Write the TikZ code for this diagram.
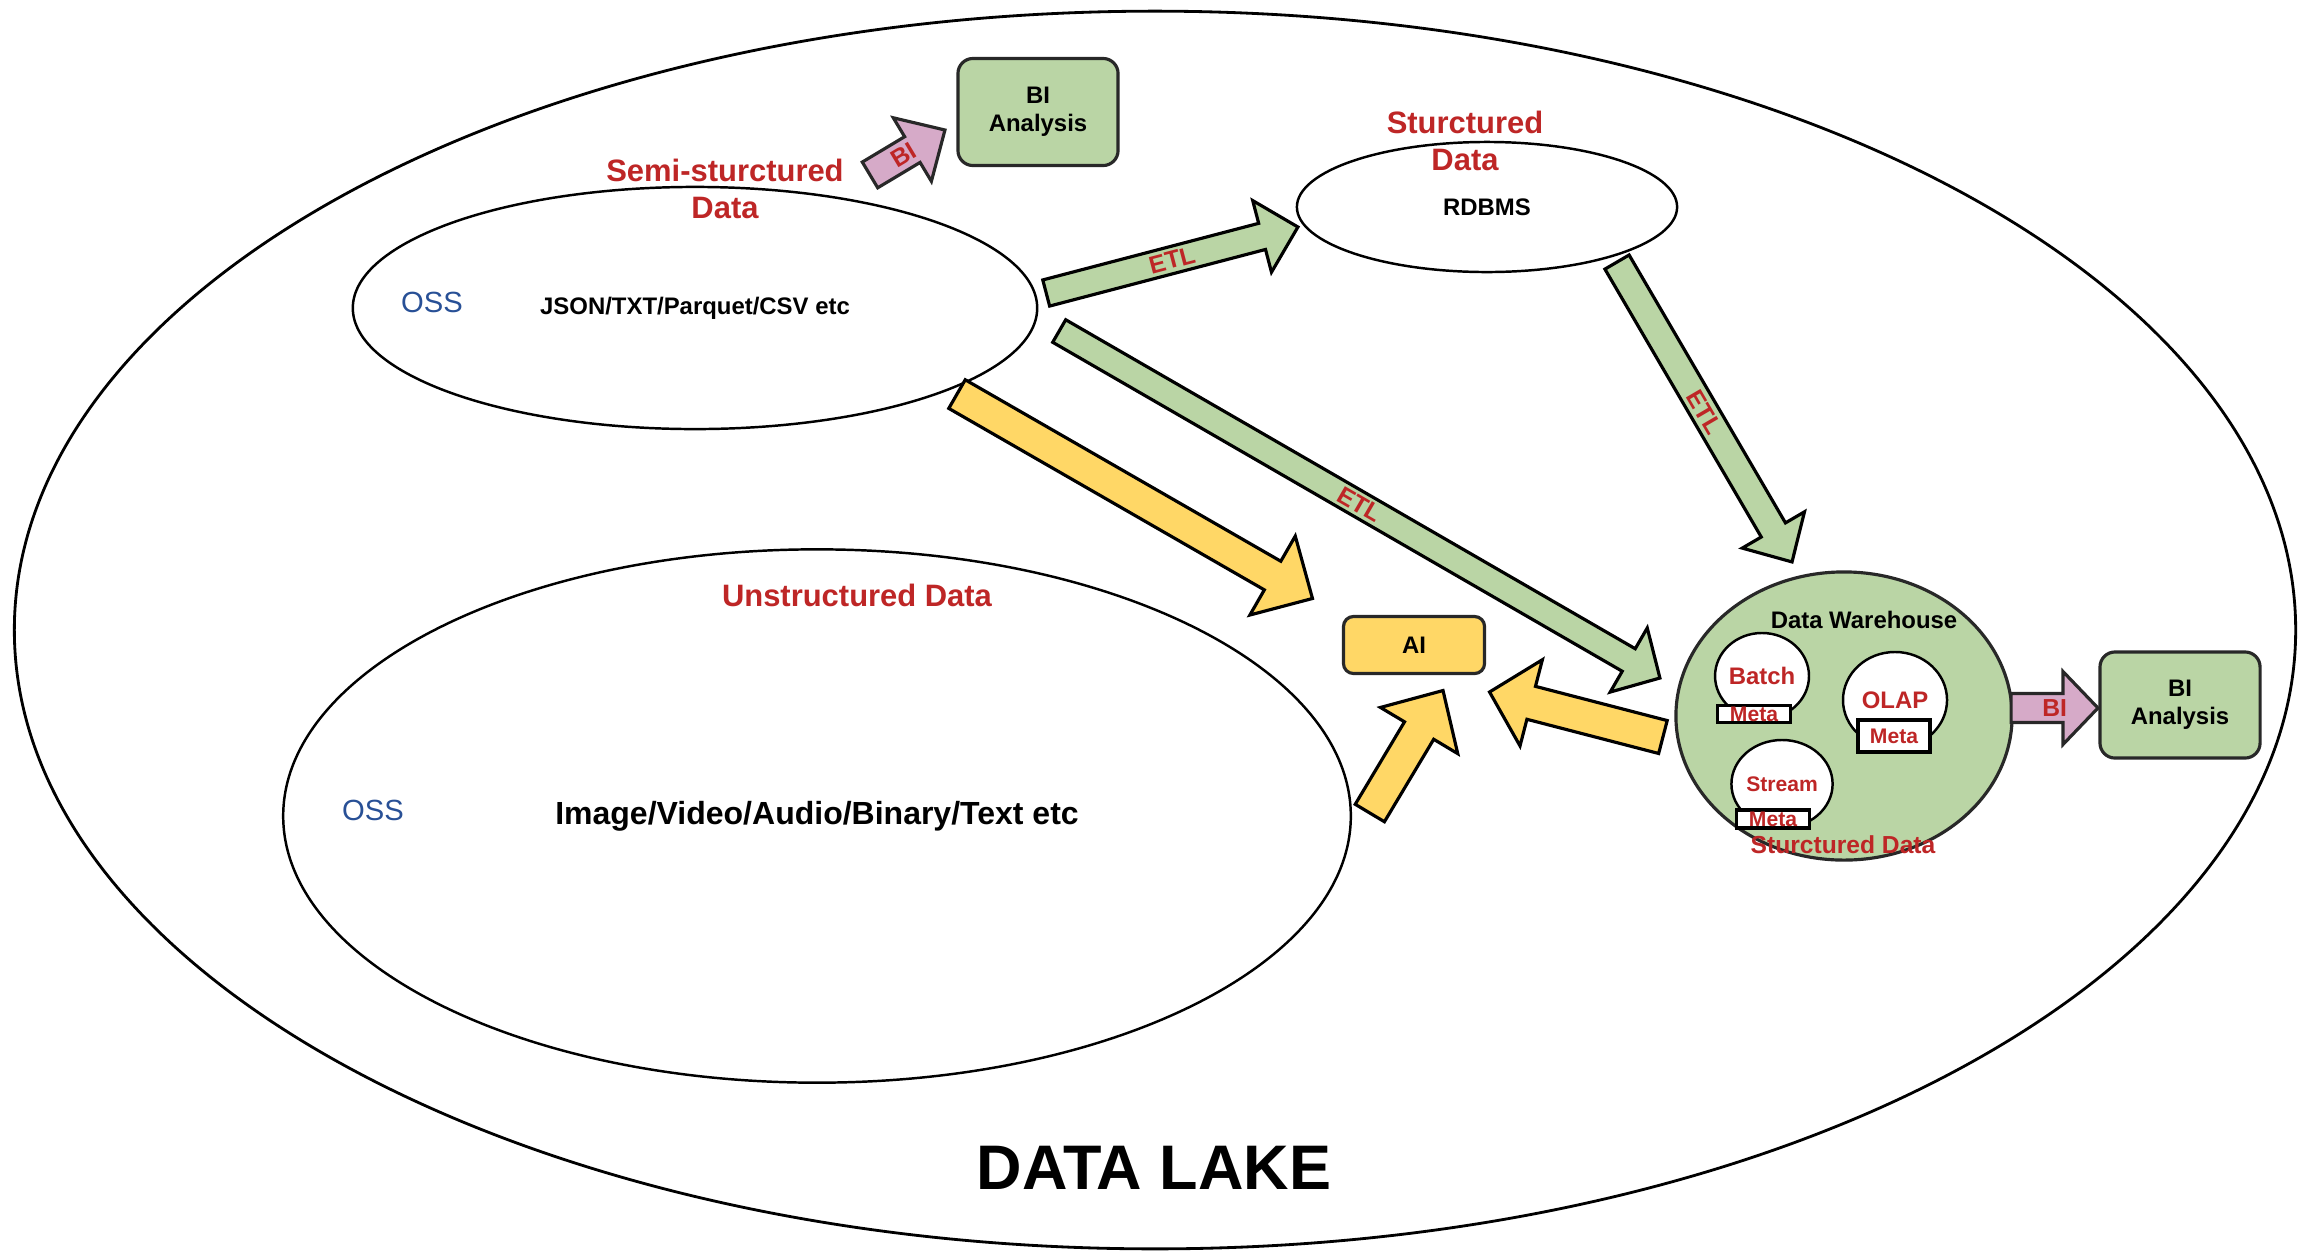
\documentclass[tikz,border=0pt]{standalone}
\usepackage{fontspec}
\setmainfont{Liberation Sans}
\usetikzlibrary{calc,shapes.geometric}

\definecolor{lblred}{RGB}{190,38,38}
\definecolor{ossblue}{RGB}{40,80,150}
\definecolor{grnfill}{RGB}{186,213,165}
\definecolor{yelfill}{RGB}{255,215,102}
\definecolor{pinkfill}{RGB}{214,170,200}
\definecolor{edgegray}{RGB}{40,40,40}

% font sizes (1 unit of the picture = 0.01cm)
\newcommand\szHead{\fontsize{8.8}{10.5}\selectfont}
\newcommand\szBody{\fontsize{6.8}{8.0}\selectfont}
\newcommand\szBig{\fontsize{9.1}{10.8}\selectfont}
\newcommand\szOss{\fontsize{8.3}{10}\selectfont}
\newcommand\szSmall{\fontsize{6.0}{7}\selectfont}
\newcommand\szArrow{\fontsize{7.0}{8}\selectfont}
\newcommand\szTitle{\fontsize{17.9}{20}\selectfont}

% block arrow: style, tail, tip, shaft half width, head half width, head length
\newcommand\blockarrow[6]{%
  \coordinate (ba-b) at ($(#3)!#6!(#2)$);
  \draw[#1] ($(#2)!#4!90:(#3)$) -- ($(ba-b)!#4!90:(#3)$) -- ($(ba-b)!#5!90:(#3)$) -- (#3)
     -- ($(ba-b)!#5!-90:(#3)$) -- ($(ba-b)!#4!-90:(#3)$) -- ($(#2)!#4!-90:(#3)$) -- cycle;
}
% label along an arrow: tail, tip, position, text
\newcommand\arrowtext[4]{%
  \path (#1) -- (#2) node[arrowlabel, pos=#3, sloped] {#4};
}

\begin{document}
\begin{tikzpicture}[x=0.01cm, y=-0.01cm,
  every node/.style={inner sep=0pt, outer sep=0pt},
  plain/.style={ellipse, draw=black, line width=0.7pt, fill=white},
  greenbox/.style={rectangle, draw=edgegray, line width=0.9pt, fill=grnfill,
    rounded corners=0.15cm, align=center, font=\szBody\bfseries},
  aibox/.style={rectangle, draw=edgegray, line width=0.9pt, fill=yelfill,
    rounded corners=0.1cm, font=\szBody\bfseries},
  redlbl/.style={text=lblred, font=\szHead\bfseries, align=center},
  osslbl/.style={text=ossblue, font=\szOss},
  dwcirc/.style={ellipse, draw=black, line width=0.7pt, fill=white, text=lblred, font=\szBody\bfseries},
  metabox/.style={rectangle, draw=black, line width=0.9pt, fill=white, text=lblred, font=\szSmall\bfseries},
  arrowlabel/.style={text=lblred, font=\szArrow\bfseries},
  etlarrow/.style={draw=black, line width=0.9pt, fill=grnfill, line join=miter},
  aiarrow/.style={draw=black, line width=0.9pt, fill=yelfill, line join=miter},
  biarrow/.style={draw=edgegray, line width=0.9pt, fill=pinkfill, line join=miter},
]
\fill[white] (0,0) rectangle (2310,1254);
\useasboundingbox (0,0) rectangle (2310,1254);

% the lake
\node[plain, line width=0.8pt, minimum width=22.8cm, minimum height=12.37cm] (lake) at (1155,630) {};
\node[font=\szTitle\bfseries] (lakelbl) at (1154,1168) {DATA LAKE};

% stores
\node[plain, minimum width=6.84cm, minimum height=2.42cm, font=\szBody\bfseries] (semi) at (695,308) {JSON/TXT/Parquet/CSV etc};
\node[plain, minimum width=3.8cm, minimum height=1.3cm, font=\szBody\bfseries] (rdb) at (1487,207) {RDBMS};
\node[plain, minimum width=10.67cm, minimum height=5.33cm, font=\szBig\bfseries] (unstr) at (817,816) {Image/Video/Audio/Binary/Text etc};

\node[redlbl] (semilbl) at (725,189) {Semi-sturctured\\Data};
\node[redlbl] (rdblbl) at (1465,141) {Sturctured\\Data};
\node[redlbl] (unstrlbl) at (857,595) {Unstructured Data};
\node[osslbl] (oss1) at (432,302) {OSS};
\node[osslbl] (oss2) at (373,810) {OSS};

% consumers
\node[greenbox, minimum width=1.6cm, minimum height=1.07cm] (bitop) at (1038,112) {BI\\Analysis};
\node[greenbox, minimum width=1.6cm, minimum height=1.06cm] (biright) at (2180,705) {BI\\Analysis};
\node[aibox, minimum width=1.41cm, minimum height=0.57cm] (ai) at (1414,645) {AI};

% data warehouse
\node[ellipse, draw=edgegray, line width=0.9pt, fill=grnfill, minimum width=3.36cm, minimum height=2.88cm] (dw) at (1844,716) {};
\node[font=\szBody\bfseries] (dwlbl) at (1864,620) {Data Warehouse};
\node[dwcirc, minimum width=0.87cm, minimum height=0.86cm] (batch) at (1762,676) {Batch};
\node[dwcirc, minimum width=1.04cm, minimum height=0.96cm] (olap) at (1895,700) {OLAP};
\node[dwcirc, minimum width=0.90cm, minimum height=0.88cm, font=\szSmall\bfseries] (stream) at (1782,784) {Stream};
\node[metabox, minimum width=0.73cm, minimum height=0.17cm] (bmeta) at (1754,714) {Meta};
\node[metabox, minimum width=0.72cm, minimum height=0.32cm] (ometa) at (1894,736) {Meta};
\node[metabox, minimum width=0.73cm, minimum height=0.18cm] (smeta) at (1773,819) {Meta};
\node[text=lblred, font=\szArrow\bfseries] (dwsub) at (1843,845) {Sturctured Data};

% arrow ends
\coordinate (biS-t) at ([shift={(175,-12)}]semi.north);
\coordinate (biS-h) at ([shift={(-13,18)}]bitop.west);
\coordinate (e1-t) at ([shift={(9,-15)}]semi.east);
\coordinate (e1-h) at ([shift={(1,20)}]rdb.west);
\coordinate (e2-t) at ([shift={(22,23)}]semi.east);
\coordinate (e2-h) at ([shift={(-16,-38)}]dw.west);
\coordinate (e3-t) at ([shift={(130,-10)}]rdb.south);
\coordinate (e3-h) at ([shift={(-52,-10)}]dw.north);
\coordinate (y1-t) at ([shift={(262,-35)}]semi.south);
\coordinate (y1-h) at ([shift={(-31,-18)}]ai.north west);
\coordinate (y2-t) at ([shift={(19,-3)}]unstr.east);
\coordinate (y2-h) at ([shift={(29,17)}]ai.south);
\coordinate (y3-t) at ([shift={(-13,21)}]dw.west);
\coordinate (y3-h) at ([shift={(5,47)}]ai.east);
\coordinate (biR-t) at ([shift={(-1,-8)}]dw.east);
\coordinate (biR-h) at ([shift={(-2,3)}]biright.west);

% flows
\blockarrow{biarrow}{biS-t}{biS-h}{0.15cm}{0.37cm}{0.38cm}
\arrowtext{biS-t}{biS-h}{0.45}{BI}
\blockarrow{etlarrow}{e1-t}{e1-h}{0.135cm}{0.37cm}{0.37cm}
\arrowtext{e1-t}{e1-h}{0.5}{ETL}
\blockarrow{etlarrow}{e2-t}{e2-h}{0.13cm}{0.37cm}{0.36cm}
\arrowtext{e2-t}{e2-h}{0.5}{ETL}
\blockarrow{etlarrow}{e3-t}{e3-h}{0.14cm}{0.36cm}{0.37cm}
\arrowtext{e3-t}{e3-h}{0.5}{ETL}
\blockarrow{aiarrow}{y1-t}{y1-h}{0.165cm}{0.455cm}{0.46cm}
\blockarrow{aiarrow}{y2-t}{y2-h}{0.17cm}{0.45cm}{0.466cm}
\blockarrow{aiarrow}{y3-t}{y3-h}{0.17cm}{0.445cm}{0.43cm}
\blockarrow{biarrow}{biR-t}{biR-h}{0.145cm}{0.365cm}{0.35cm}
\arrowtext{biR-t}{biR-h}{0.5}{BI}
\end{tikzpicture}
\end{document}
